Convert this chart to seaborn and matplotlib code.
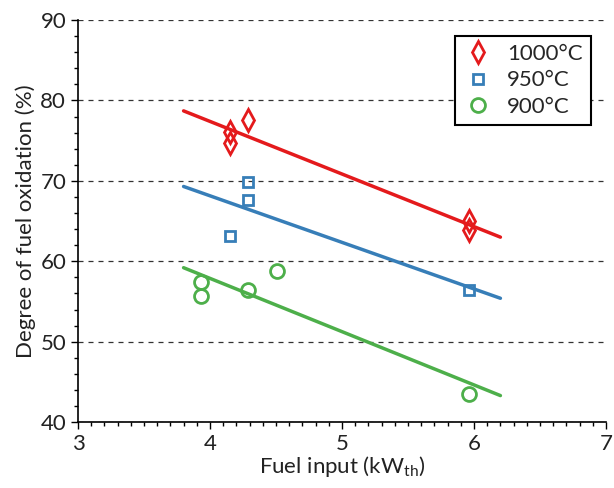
import pandas as pd
import seaborn as sns
import matplotlib.pyplot as plt
from matplotlib.ticker import MultipleLocator

# measured points
x_1000 = [4.15, 4.15, 4.29, 5.96, 5.96]
y_1000 = [76.1, 74.7, 77.6, 65.0, 63.9]

x_950 = [4.15, 4.29, 4.29, 5.96]
y_950 = [63.1, 69.8, 67.6, 56.4]

x_900 = [3.93, 3.93, 4.29, 4.51, 5.96]
y_900 = [57.4, 55.7, 56.4, 58.8, 43.5]

# fitted trend lines (end points)
fit_x = [3.8, 6.2]
fit_1000 = [78.7, 63.0]
fit_950 = [69.3, 55.4]
fit_900 = [59.2, 43.3]

labels = ['1000°C', '950°C', '900°C']
colors = {'1000°C': '#e41a1c', '950°C': '#377eb8', '900°C': '#4daf4a'}
markers = {'1000°C': 'd', '950°C': 's', '900°C': 'o'}
sizes = {'1000°C': 11, '950°C': 7.5, '900°C': 10}

pts = pd.concat([
    pd.DataFrame({'x': x_1000, 'y': y_1000, 'T': '1000°C'}),
    pd.DataFrame({'x': x_950, 'y': y_950, 'T': '950°C'}),
    pd.DataFrame({'x': x_900, 'y': y_900, 'T': '900°C'}),
])
fits = pd.concat([
    pd.DataFrame({'x': fit_x, 'y': fit_1000, 'T': '1000°C'}),
    pd.DataFrame({'x': fit_x, 'y': fit_950, 'T': '950°C'}),
    pd.DataFrame({'x': fit_x, 'y': fit_900, 'T': '900°C'}),
])

sns.set_style('ticks')
plt.rcParams['font.family'] = ['Lato', 'DejaVu Sans']

fig = plt.figure(figsize=(6.14, 4.88), dpi=100)
ax = fig.add_axes([0.127, 0.135, 0.86, 0.824])

sns.lineplot(data=fits, x='x', y='y', hue='T', palette=colors, linewidth=2.5,
             legend=False, ax=ax)

for t in labels:
    d = pts[pts['T'] == t]
    ax.plot(d['x'], d['y'], linestyle='none', marker=markers[t],
            markersize=sizes[t], markerfacecolor='none', markeredgecolor=colors[t],
            markeredgewidth=2, label=t)

ax.set_xlim(3, 7)
ax.set_ylim(40, 90)
ax.xaxis.set_major_locator(MultipleLocator(1))
ax.xaxis.set_minor_locator(MultipleLocator(0.1))
ax.yaxis.set_major_locator(MultipleLocator(10))
ax.yaxis.set_minor_locator(MultipleLocator(2))
ax.tick_params(which='major', length=5, width=1, color='black', labelsize=16,
               labelcolor='#222222')
ax.tick_params(which='minor', length=3, width=1, color='black')
ax.grid(axis='y', which='major', linestyle=(0, (4, 4)), color='#333333', linewidth=0.9)
ax.grid(axis='x', visible=False)

for s in ['top', 'right']:
    ax.spines[s].set_visible(False)
for s in ['left', 'bottom']:
    ax.spines[s].set_color('black')
    ax.spines[s].set_linewidth(1.2)

ax.set_xlabel('Fuel input (kW$_{\\mathregular{th}}$)', fontsize=16, color='#222222', labelpad=0)
ax.set_ylabel('Degree of fuel oxidation (%)', fontsize=16, color='#222222', labelpad=3)

leg = ax.legend(loc='upper right', fontsize=16, frameon=True, fancybox=False,
                edgecolor='black', framealpha=1, borderpad=0.35, handletextpad=0.6,
                handlelength=1.4, labelspacing=0.3, bbox_to_anchor=(0.992, 0.988))
leg.get_frame().set_linewidth(1.5)

fig.savefig('out.png', dpi=100)
